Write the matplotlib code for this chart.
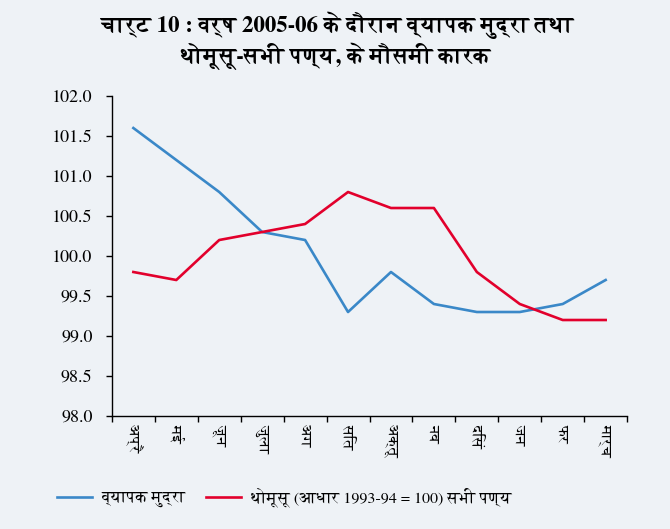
import matplotlib
matplotlib.use('agg')
import matplotlib.pyplot as plt
import numpy as np

plt.rcParams['font.family'] = ['FreeSerif', 'DejaVu Serif']

months = ["अप्रै", "मई", "जून", "जुला", "अग", "सित", "अक्तू", "नव", "दिसं", "जन", "फर", "मार्च"]
broad_money = [101.6, 101.2, 100.8, 100.3, 100.2, 99.3, 99.8, 99.4, 99.3, 99.3, 99.4, 99.7]
wpi_all = [99.8, 99.7, 100.2, 100.3, 100.4, 100.8, 100.6, 100.6, 99.8, 99.4, 99.2, 99.2]
labels = ["व्यापक मुद्रा", "थोमूसू (आधार 1993-94 = 100) सभी पण्य"]
yticks = np.arange(98.0, 102.01, 0.5)

bg = "#eef2f6"
fig = plt.figure(figsize=(6.7, 5.29), dpi=100, facecolor=bg)
ax = fig.add_axes([0.167, 0.2136, 0.769, 0.6049], facecolor=bg)

x = np.arange(len(months))
ax.plot(x, broad_money, color="#3a88c8", lw=1.9, label=labels[0])
ax.plot(x, wpi_all, color="#e2002c", lw=1.9, label=labels[1])

ax.set_xlim(-0.5, len(months) - 0.5)
ax.set_ylim(98.0, 102.0)
ax.set_yticks(yticks)
ax.set_yticklabels([f"{v:.1f}" for v in yticks], fontsize=13)
ax.set_xticks(x)
ax.set_xticklabels(months, rotation=-90, fontsize=11, va="top")
ax.set_xticks(np.arange(-0.5, len(months), 1.0), minor=True)
ax.tick_params(axis="x", which="major", length=0, pad=6)
ax.tick_params(axis="x", which="minor", length=4, width=1, direction="out")
ax.tick_params(axis="y", length=4, width=1, direction="out", pad=10)

for s in ["top", "right"]:
    ax.spines[s].set_visible(False)
for s in ["left", "bottom"]:
    ax.spines[s].set_color("black")
    ax.spines[s].set_linewidth(1.0)

fig.text(0.503, 0.952, "चार्ट 10 : वर्ष 2005-06 के दौरान व्यापक मुद्रा तथा",
         ha="center", va="center", fontsize=16.5, fontweight="bold")
fig.text(0.5, 0.893, "थोमूसू-सभी पण्य, के मौसमी कारक",
         ha="center", va="center", fontsize=16.5, fontweight="bold")

fig.legend(loc="center left", bbox_to_anchor=(0.063, 0.06), ncol=2, frameon=False,
           fontsize=11.5, handlelength=2.2, columnspacing=1.3, handletextpad=0.6)

fig.savefig("out.png", facecolor=bg)
